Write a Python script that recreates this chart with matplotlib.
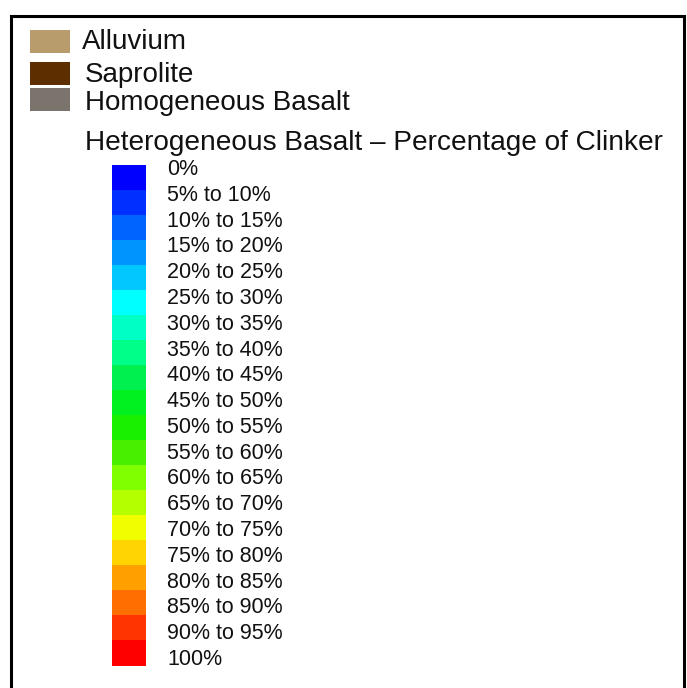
import matplotlib.pyplot as plt
from matplotlib.patches import Rectangle

plt.rcParams["font.family"] = ["Liberation Sans", "DejaVu Sans"]

W, H = 687, 688

# plain legend entries
units = ["Alluvium", "Saprolite", "Homogeneous Basalt"]
unit_colors = ["#B89C6C", "#5C2E00", "#7A746C"]

ramp_title = "Heterogeneous Basalt \u2013 Percentage of Clinker"
ramp_labels = ["0%"] + [f"{a}% to {a + 5}%" for a in range(5, 95, 5)] + ["100%"]
ramp_colors = [
    "#0000FF", "#0030FF", "#0064FF", "#0094FF", "#00C8FF",
    "#00FFFF", "#00FFC4", "#00FF88", "#00F050", "#00F020",
    "#18F000", "#48F000", "#80FF00", "#B4FF00", "#F0FF00",
    "#FFD400", "#FFA000", "#FF6E00", "#FF3400", "#FF0000",
]


def main():
    fig = plt.figure(figsize=(W / 100, H / 100), dpi=100)
    ax = fig.add_axes([0, 0, 1, 1])
    ax.set_xlim(0, W)
    ax.set_ylim(H, 0)
    ax.axis("off")

    # frame, bottom edge runs off the picture
    ax.plot([10.5, 10.5, 683.5, 683.5], [H + 5, 15.5, 15.5, H + 5],
            color="black", lw=2.2, solid_joinstyle="miter")

    unit_tops = [30, 62, 88]
    unit_text_x = [82, 85, 85]
    unit_baselines = [49, 82, 110]
    for name, col, top, tx, by in zip(units, unit_colors, unit_tops,
                                      unit_text_x, unit_baselines):
        ax.add_patch(Rectangle((30, top), 40, 23, facecolor=col, edgecolor="none"))
        ax.text(tx, by, name, fontsize=20, va="baseline", ha="left", color="#111111")

    ax.text(85, 150, ramp_title, fontsize=20.2, va="baseline", ha="left",
            color="#111111")

    top, bottom = 164.5, 665.5
    band = (bottom - top) / len(ramp_colors)
    for i, col in enumerate(ramp_colors):
        ax.add_patch(Rectangle((112, top + i * band), 34, band + 0.3,
                               facecolor=col, edgecolor="none"))

    step = (665 - 175) / (len(ramp_labels) - 1)
    for i, lab in enumerate(ramp_labels):
        ax.text(167, 175 + i * step, lab, fontsize=15.5, va="baseline", ha="left",
                color="#111111")

    fig.savefig("out.png", dpi=100)


if __name__ == "__main__":
    main()
